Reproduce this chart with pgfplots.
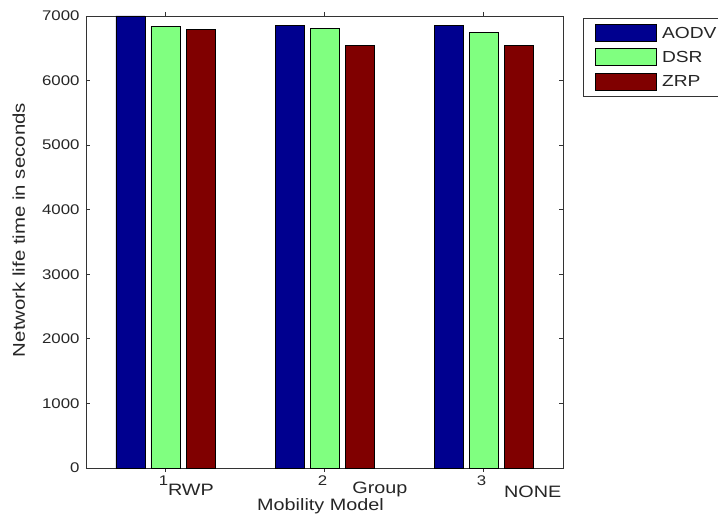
\documentclass[border=0pt]{standalone}
\usepackage{fontspec}
\setmainfont[FakeStretch=1.2]{Liberation Sans}
\usepackage{pgfplots}
\pgfplotsset{compat=1.18}
\definecolor{cAODV}{RGB}{0,0,143}
\definecolor{cDSR}{RGB}{128,255,128}
\definecolor{cZRP}{RGB}{128,0,0}
\begin{document}
\begin{tikzpicture}
\useasboundingbox (-86bp,-55bp) rectangle (632bp,468bp);
\begin{axis}[
  at={(0,0)}, anchor=south west,
  scale only axis,
  width=477bp, height=452bp,
  xmin=0.5, xmax=3.5,
  ymin=0, ymax=7000,
  clip=false,
  xtick={1,2,3},
  ytick={0,1000,2000,3000,4000,5000,6000,7000},
  tick pos=both,
  tick align=inside,
  major tick length=4bp,
  axis line style={black!80, line width=0.8bp},
  every tick/.style={black!80, line width=0.8bp},
  scaled y ticks=false,
  /pgf/number format/assume math mode=true,
  /pgf/number format/1000 sep={},
  ticklabel style={font=\fontsize{14bp}{16bp}\selectfont, text=black!85},
  yticklabel style={xshift=-3bp},
  xticklabel style={yshift=0bp, xshift=-2bp},
  xlabel={Mobility Model},
  ylabel={Network life time in seconds},
  xlabel style={font=\fontsize{16.5bp}{18bp}\selectfont, text=black!85, at={(axis description cs:0.4916,-0.0945)}, anchor=base},
  ylabel style={font=\fontsize{17bp}{19bp}\selectfont, text=black!85, at={(axis description cs:-0.128,0.5265)}, anchor=base},
  ybar,
  bar width=29bp,
  legend image code/.code={\draw[#1, line width=0.6bp] (0bp,-8.5bp) rectangle (61bp,8.5bp);},
  legend style={at={(axis description cs:1.042,0.9956)}, anchor=north west,
    draw=black!80, line width=0.8bp,
    font=\fontsize{16bp}{18bp}\selectfont, text=black!85,
    inner xsep=12bp, inner ysep=6bp, row sep=6.5bp,
    nodes={inner xsep=5bp, inner ysep=2bp},
    text width=60bp},
  legend cell align=left,
]
\addplot[draw=black, line width=0.6bp, fill=cAODV, bar shift=-35bp] coordinates {(1,7000) (2,6850) (3,6850)};
\addplot[draw=black, line width=0.6bp, fill=cDSR, bar shift=0bp] coordinates {(1,6840) (2,6810) (3,6750)};
\addplot[draw=black, line width=0.6bp, fill=cZRP, bar shift=35bp] coordinates {(1,6790) (2,6540) (3,6540)};
\legend{AODV, DSR, ZRP}
\node[font=\fontsize{16.5bp}{18bp}\selectfont, text=black!85] at (axis cs:1.16,0) [yshift=-22bp] {RWP};
\node[font=\fontsize{16.5bp}{18bp}\selectfont, text=black!85] at (axis cs:2.349,0) [yshift=-21bp] {Group};
\node[font=\fontsize{16.5bp}{18bp}\selectfont, text=black!85] at (axis cs:3.31,0) [yshift=-24bp] {NONE};
\end{axis}
\end{tikzpicture}
\end{document}
